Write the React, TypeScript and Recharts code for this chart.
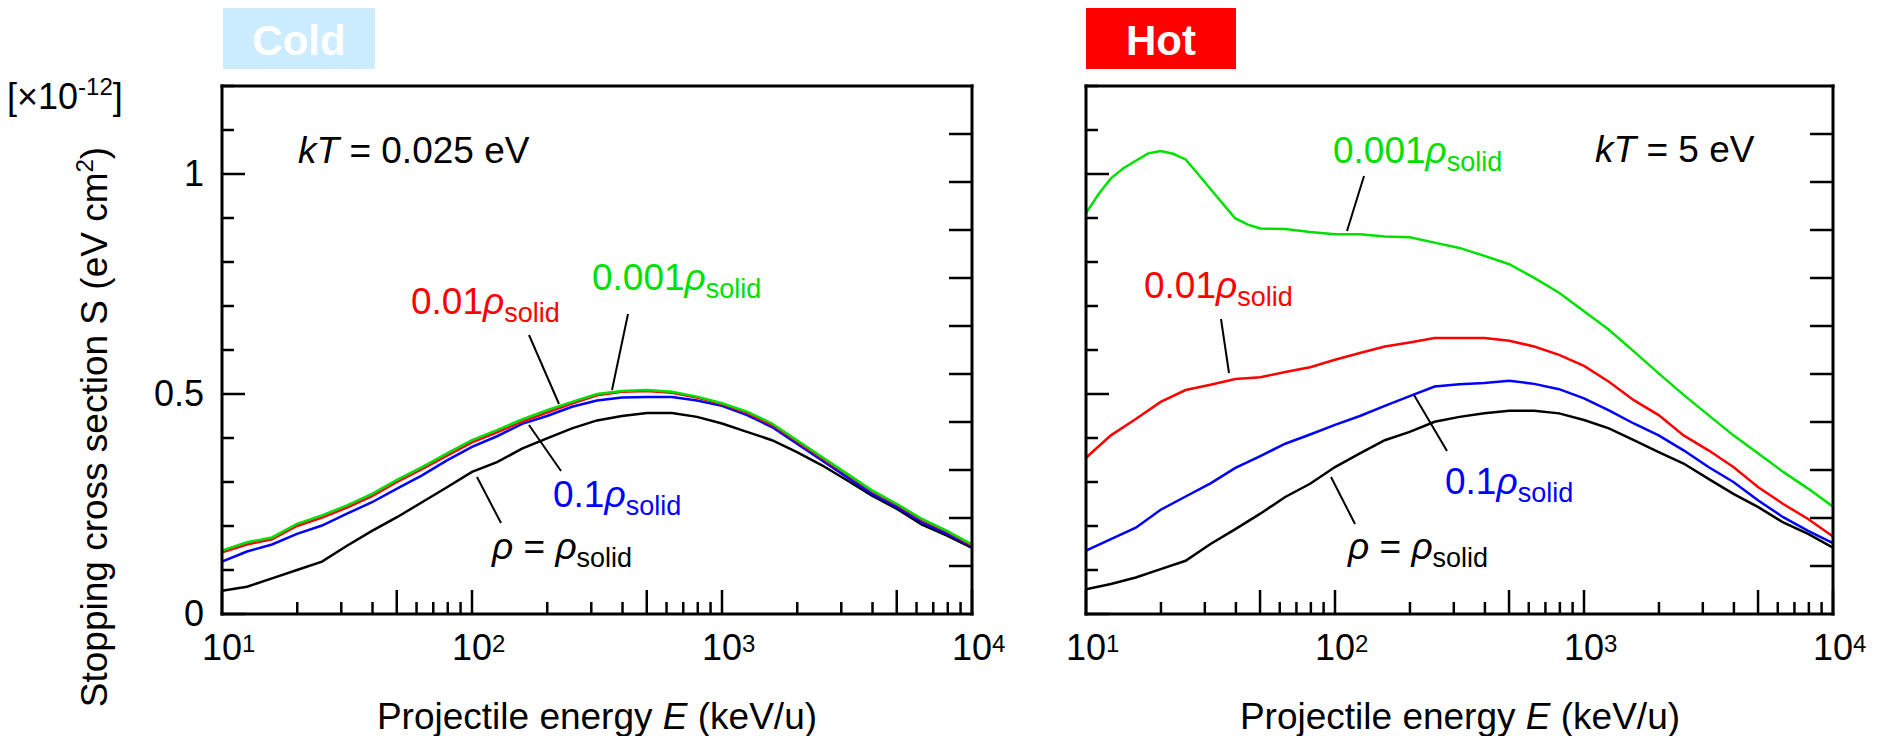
import React from "react";
import { LineChart, Line, XAxis, YAxis } from "recharts";

const FONT = "'Liberation Sans', Arial, Helvetica, sans-serif";

// projectile energy grid (keV/u), ten points per decade
const energies = [
  10, 12.59, 15.85, 19.95, 25.12, 31.62, 39.81, 50.12, 63.1, 79.43,
  100, 125.9, 158.5, 199.5, 251.2, 316.2, 398.1, 501.2, 631, 794.3,
  1000, 1259, 1585, 1995, 2512, 3162, 3981, 5012, 6310, 7943, 10000,
];

// finer grid used for the low-energy bump of the hot 0.001 curve
const energiesFine = [
  10, 11.22, 12.59, 14.13, 15.85, 17.78, 19.95, 22.39, 25.12, 28.18,
  31.62, 35.48, 39.81, 44.67, 50.12, 63.1, 79.43,
  100, 125.9, 158.5, 199.5, 251.2, 316.2, 398.1, 501.2, 631, 794.3,
  1000, 1259, 1585, 1995, 2512, 3162, 3981, 5012, 6310, 7943, 10000,
];

// stopping cross section S [x1e-12 eV cm^2], kT = 0.025 eV
const coldSolid = [
  0.053, 0.062, 0.081, 0.1, 0.119, 0.155, 0.189, 0.22, 0.254, 0.288,
  0.323, 0.345, 0.376, 0.399, 0.422, 0.44, 0.45, 0.457, 0.457, 0.448,
  0.433, 0.414, 0.395, 0.368, 0.338, 0.304, 0.269, 0.239, 0.203, 0.178, 0.15,
];
const coldTenth = [
  0.119, 0.142, 0.158, 0.182, 0.201, 0.228, 0.254, 0.285, 0.315, 0.349,
  0.38, 0.404, 0.432, 0.45, 0.471, 0.485, 0.492, 0.493, 0.493, 0.485,
  0.473, 0.452, 0.425, 0.387, 0.349, 0.311, 0.273, 0.243, 0.208, 0.182, 0.153,
];
const coldHundredth = [
  0.14, 0.158, 0.17, 0.2, 0.219, 0.242, 0.268, 0.3, 0.329, 0.36,
  0.39, 0.413, 0.437, 0.458, 0.478, 0.497, 0.505, 0.507, 0.503, 0.492,
  0.477, 0.457, 0.43, 0.392, 0.354, 0.317, 0.279, 0.248, 0.214, 0.187, 0.156,
];
const coldThousandth = [
  0.144, 0.163, 0.174, 0.205, 0.224, 0.247, 0.273, 0.305, 0.334, 0.365,
  0.395, 0.418, 0.442, 0.463, 0.482, 0.5, 0.507, 0.509, 0.505, 0.494,
  0.479, 0.46, 0.433, 0.395, 0.357, 0.319, 0.281, 0.25, 0.216, 0.189, 0.158,
];

// kT = 5 eV
const hotSolid = [
  0.056, 0.068, 0.083, 0.102, 0.121, 0.159, 0.193, 0.228, 0.266, 0.296,
  0.334, 0.365, 0.395, 0.414, 0.437, 0.448, 0.456, 0.462, 0.462, 0.456,
  0.441, 0.422, 0.395, 0.368, 0.342, 0.307, 0.273, 0.243, 0.208, 0.182, 0.151,
];
const hotTenth = [
  0.144, 0.17, 0.196, 0.237, 0.267, 0.297, 0.332, 0.359, 0.387, 0.408,
  0.43, 0.45, 0.473, 0.495, 0.517, 0.522, 0.525, 0.53, 0.523, 0.511,
  0.49, 0.463, 0.433, 0.406, 0.372, 0.334, 0.3, 0.258, 0.22, 0.189, 0.161,
];
const hotHundredth = [
  0.355, 0.406, 0.443, 0.482, 0.509, 0.521, 0.534, 0.538, 0.55, 0.561,
  0.578, 0.593, 0.608, 0.617, 0.627, 0.627, 0.627, 0.621, 0.608, 0.589,
  0.564, 0.528, 0.486, 0.452, 0.406, 0.372, 0.334, 0.288, 0.25, 0.216, 0.176,
];
const hotThousandth = [
  0.911, 0.954, 0.99, 1.013, 1.03, 1.047, 1.052, 1.046, 1.033, 1.0,
  0.966, 0.932, 0.899, 0.885, 0.876, 0.875, 0.868,
  0.863, 0.863, 0.858, 0.856, 0.844, 0.832, 0.814, 0.795, 0.764, 0.73,
  0.688, 0.646, 0.597, 0.547, 0.498, 0.452, 0.406, 0.365, 0.323, 0.285, 0.244,
];

const energyTicks = [
  10, 20, 30, 40, 50, 60, 70, 80, 90,
  100, 200, 300, 400, 500, 600, 700, 800, 900,
  1000, 2000, 3000, 4000, 5000, 6000, 7000, 8000, 9000, 10000,
];
const sTicks = [0, 0.1, 0.2, 0.3, 0.4, 0.5, 0.6, 0.7, 0.8, 0.9, 1, 1.1, 1.2];
const sLabels: Record<string, string> = { "0": "0", "0.5": "0.5", "1": "1" };
const rightTicks = [1, 2, 3, 4, 5, 6, 7, 8, 9, 10];

const COLORS = { solid: "#000000", tenth: "#0000ff", hundredth: "#ff0000", thousandth: "#00e000" };

const coldRows = energies.map((E, i) => ({
  E,
  solid: coldSolid[i],
  tenth: coldTenth[i],
  hundredth: coldHundredth[i],
  thousandth: coldThousandth[i],
}));
const hotRows = energies.map((E, i) => ({
  E,
  solid: hotSolid[i],
  tenth: hotTenth[i],
  hundredth: hotHundredth[i],
}));
const hotFineRows = energiesFine.map((E, i) => ({ E, thousandth: hotThousandth[i] }));

const leading = (v: number) => Math.round(v / Math.pow(10, Math.floor(Math.log10(v) + 1e-9)));

const EnergyTick = (props: any) => {
  const { x, y, payload, top, labelled } = props;
  const v = payload.value;
  const d = leading(v);
  const len = d === 1 || d === 5 ? 24 : 12;
  const dir = top ? 1 : -1;
  return (
    <g>
      <line x1={x} x2={x} y1={y} y2={y + dir * len} stroke="#000" strokeWidth={2.5} />
      {labelled && d === 1 && (
        <>
          <text x={x} y={y + 46} textAnchor="middle" fontSize={36} fontFamily={FONT} fill="#000">
            10
          </text>
          <text x={x + 20} y={y + 38} fontSize={24} fontFamily={FONT} fill="#000">
            {Math.round(Math.log10(v))}
          </text>
        </>
      )}
    </g>
  );
};

const STick = (props: any) => {
  const { x, y, payload, labelled } = props;
  const v = payload.value;
  const key = String(Math.round(v * 10) / 10);
  const major = key in sLabels;
  return (
    <g>
      <line x1={x} x2={x + (major ? 23 : 12)} y1={y} y2={y} stroke="#000" strokeWidth={2.5} />
      {labelled && major && (
        <text x={x - 18} y={y + 12} textAnchor="end" fontSize={36} fontFamily={FONT} fill="#000">
          {sLabels[key]}
        </text>
      )}
    </g>
  );
};

const SideTick = (props: any) => {
  const { x, y } = props;
  return <line x1={x} x2={x - 23} y1={y} y2={y} stroke="#000" strokeWidth={2.5} />;
};

const frame = { stroke: "#000", strokeWidth: 3, strokeLinecap: "square" as const };

type PanelProps = {
  rows: any[];
  fineRows?: any[];
  width: number;
  marginLeft: number;
  marginRight: number;
  yLabels: boolean;
};

const Panel = ({ rows, fineRows, width, marginLeft, marginRight, yLabels }: PanelProps) => (
  <LineChart
    width={width}
    height={736}
    data={rows}
    margin={{ top: 85, bottom: 121, left: marginLeft, right: marginRight }}
  >
    <XAxis
      xAxisId="b"
      dataKey="E"
      type="number"
      scale="log"
      domain={[10, 10000]}
      allowDataOverflow
      ticks={energyTicks}
      interval={0}
      height={1}
      tickSize={0}
      tickMargin={0}
      tickLine={false}
      axisLine={frame}
      tick={(p: any) => <EnergyTick {...p} labelled />}
    />
    <XAxis
      xAxisId="t"
      orientation="top"
      type="number"
      scale="log"
      domain={[10, 10000]}
      allowDataOverflow
      ticks={energyTicks}
      interval={0}
      height={1}
      tickSize={0}
      tickMargin={0}
      tickLine={false}
      axisLine={frame}
      tick={(p: any) => <EnergyTick {...p} top />}
    />
    <YAxis
      yAxisId="l"
      type="number"
      domain={[0, 1.2]}
      allowDataOverflow
      ticks={sTicks}
      interval={0}
      width={1}
      tickSize={0}
      tickMargin={0}
      tickLine={false}
      axisLine={frame}
      tick={(p: any) => <STick {...p} labelled={yLabels} />}
    />
    <YAxis
      yAxisId="r"
      orientation="right"
      type="number"
      domain={[0, 11]}
      allowDataOverflow
      ticks={rightTicks}
      interval={0}
      width={1}
      tickSize={0}
      tickMargin={0}
      tickLine={false}
      axisLine={frame}
      tick={(p: any) => <SideTick {...p} />}
    />
    <Line xAxisId="b" yAxisId="l" dataKey="solid" stroke={COLORS.solid} strokeWidth={2.5} dot={false} isAnimationActive={false} />
    <Line xAxisId="b" yAxisId="l" dataKey="tenth" stroke={COLORS.tenth} strokeWidth={2.5} dot={false} isAnimationActive={false} />
    <Line xAxisId="b" yAxisId="l" dataKey="hundredth" stroke={COLORS.hundredth} strokeWidth={2.5} dot={false} isAnimationActive={false} />
    <Line
      xAxisId="b"
      yAxisId="l"
      dataKey="thousandth"
      data={fineRows}
      stroke={COLORS.thousandth}
      strokeWidth={2.5}
      dot={false}
      isAnimationActive={false}
    />
  </LineChart>
);

const Rho = ({ x, y, color, prefix }: { x: number; y: number; color: string; prefix: string }) => (
  <text x={x} y={y} fill={color} fontSize={37}>
    {prefix}
    <tspan fontStyle="italic">ρ</tspan>
    <tspan fontSize={27} dy={8}>solid</tspan>
  </text>
);

const RhoSolid = ({ x, y }: { x: number; y: number }) => (
  <text x={x} y={y} fill="#000" fontSize={37}>
    <tspan fontStyle="italic">ρ</tspan> = <tspan fontStyle="italic">ρ</tspan>
    <tspan fontSize={27} dy={8}>solid</tspan>
  </text>
);

const Lead = ({ x1, y1, x2, y2 }: { x1: number; y1: number; x2: number; y2: number }) => (
  <line x1={x1} y1={y1} x2={x2} y2={y2} stroke="#000" strokeWidth={2} />
);

export default function App() {
  return (
    <div style={{ position: "absolute", left: 0, top: 0, width: 1882, height: 736, background: "#fff", fontFamily: FONT }}>
      <div style={{ position: "absolute", left: 0, top: 0 }}>
        <Panel rows={coldRows} width={1020} marginLeft={221} marginRight={47} yLabels />
      </div>
      <div style={{ position: "absolute", left: 1000, top: 0 }}>
        <Panel rows={hotRows} fineRows={hotFineRows} width={882} marginLeft={85} marginRight={48} yLabels={false} />
      </div>
      <svg
        width={1882}
        height={736}
        style={{ position: "absolute", left: 0, top: 0, pointerEvents: "none" }}
        fontFamily={FONT}
      >
        <rect x={223} y={8} width={152} height={61} fill="#ccecff" />
        <text x={299} y={55} textAnchor="middle" fill="#fff" fontWeight="bold" fontSize={42}>
          Cold
        </text>
        <rect x={1086} y={8} width={150} height={61} fill="#ff0000" />
        <text x={1161} y={55} textAnchor="middle" fill="#fff" fontWeight="bold" fontSize={42}>
          Hot
        </text>

        <text x={7} y={109} fontSize={36} fill="#000">
          [×10<tspan fontSize={24} dy={-14}>-12</tspan>
          <tspan dy={14}>]</tspan>
        </text>
        <text x={107} y={427} transform="rotate(-90 107 427)" textAnchor="middle" fontSize={37} fill="#000">
          Stopping cross section S (eV cm<tspan fontSize={24} dy={-14}>2</tspan>
          <tspan dy={14}>)</tspan>
        </text>
        <text x={597} y={729} textAnchor="middle" fontSize={37} fill="#000">
          Projectile energy <tspan fontStyle="italic">E</tspan> (keV/u)
        </text>
        <text x={1460} y={729} textAnchor="middle" fontSize={37} fill="#000">
          Projectile energy <tspan fontStyle="italic">E</tspan> (keV/u)
        </text>

        <text x={298} y={163} fontSize={37} fill="#000">
          <tspan fontStyle="italic">kT</tspan> = 0.025 eV
        </text>
        <Rho x={411} y={314} color={COLORS.hundredth} prefix="0.01" />
        <Rho x={592} y={290} color={COLORS.thousandth} prefix="0.001" />
        <Rho x={553} y={507} color={COLORS.tenth} prefix="0.1" />
        <RhoSolid x={492} y={559} />
        <Lead x1={529} y1={335} x2={559} y2={404} />
        <Lead x1={628} y1={314} x2={612} y2={390} />
        <Lead x1={529} y1={425} x2={561} y2={471} />
        <Lead x1={477} y1={477} x2={501} y2={523} />

        <text x={1595} y={162} fontSize={37} fill="#000">
          <tspan fontStyle="italic">kT</tspan> = 5 eV
        </text>
        <Rho x={1333} y={163} color={COLORS.thousandth} prefix="0.001" />
        <Rho x={1144} y={298} color={COLORS.hundredth} prefix="0.01" />
        <Rho x={1445} y={494} color={COLORS.tenth} prefix="0.1" />
        <RhoSolid x={1348} y={559} />
        <Lead x1={1364} y1={176} x2={1347} y2={231} />
        <Lead x1={1221} y1={319} x2={1229} y2={373} />
        <Lead x1={1414} y1={395} x2={1447} y2={451} />
        <Lead x1={1331} y1={477} x2={1355} y2={524} />
      </svg>
    </div>
  );
}
